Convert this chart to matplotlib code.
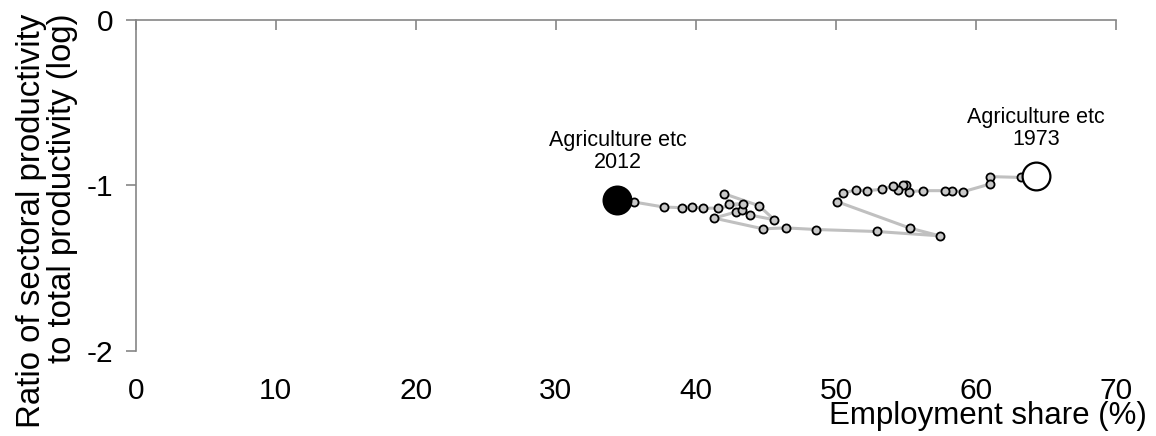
import matplotlib
matplotlib.use("Agg")
import matplotlib.pyplot as plt

plt.rcParams["font.family"] = ["Liberation Sans", "DejaVu Sans"]
plt.rcParams["axes.unicode_minus"] = False

# Employment share (%) and log productivity ratio, 1973 -> 2012
years = list(range(1973, 2013))
share = [64.3, 63.2, 61.0, 61.0, 59.1, 58.3, 57.8, 56.2, 55.2, 55.0,
         54.8, 54.4, 54.1, 53.3, 52.2, 51.4, 50.5, 50.1, 55.3, 57.4,
         52.9, 48.6, 46.4, 44.8, 41.3, 42.9, 43.3, 43.9, 45.6, 44.5,
         42.0, 42.4, 43.4, 41.6, 40.5, 39.7, 39.0, 37.7, 35.6, 34.4]
ratio = [-0.945, -0.952, -0.947, -0.992, -1.038, -1.032, -1.032, -1.032, -1.038, -0.998,
         -0.998, -1.030, -1.004, -1.024, -1.032, -1.028, -1.047, -1.099, -1.259, -1.305,
         -1.279, -1.267, -1.257, -1.263, -1.198, -1.160, -1.150, -1.180, -1.208, -1.123,
         -1.050, -1.113, -1.111, -1.137, -1.139, -1.129, -1.135, -1.131, -1.101, -1.087]

x_ticks = [0, 10, 20, 30, 40, 50, 60, 70]
y_ticks = [0, -1, -2]

fig = plt.figure(figsize=(11.56, 4.36), dpi=100)
ax = fig.add_axes([0.1174, 0.1956, 0.848, 0.7585])

# path and yearly points
ax.plot(share, ratio, color="#c0c0c0", linewidth=2.2, zorder=1)
ax.scatter(share[1:-1], ratio[1:-1], s=34, facecolor="#c8c8c8", edgecolor="black",
           linewidth=1.3, zorder=3)
# start and end years
ax.scatter([share[0]], [ratio[0]], s=400, facecolor="white", edgecolor="black",
           linewidth=1.6, zorder=4)
ax.scatter([share[-1]], [ratio[-1]], s=400, facecolor="black", edgecolor="black",
           linewidth=1.6, zorder=4)

for i in [0, -1]:
    ax.annotate("Agriculture etc\n%d" % years[i], (share[i], ratio[i]),
                xytext=(0, 34.5), textcoords="offset points",
                ha="center", va="center", fontsize=15.5, linespacing=1.05)

ax.set_xlim(0, 70)
ax.set_ylim(-2, 0)
ax.set_xticks(x_ticks)
ax.set_yticks(y_ticks)

for side in ["right", "bottom"]:
    ax.spines[side].set_visible(False)
for side in ["left", "top"]:
    ax.spines[side].set_color("#868686")
    ax.spines[side].set_linewidth(1.2)

ax.tick_params(axis="x", top=True, bottom=False, labeltop=False, labelbottom=True,
               direction="in", length=7, width=1.2, color="#868686",
               labelsize=21.5, pad=19)
ax.tick_params(axis="y", direction="out", length=7, width=1.2, color="#868686",
               labelsize=21.5, pad=9)

ax.set_xlabel("Employment share (%)", fontsize=22.5)
ax.xaxis.set_label_coords(1.0 + 31 / 980, -0.197)
ax.xaxis.label.set_horizontalalignment("right")
ax.xaxis.label.set_verticalalignment("center")

fig.text(0.0405, 0.968, "Ratio of sectoral productivity\nto total productivity (log)",
         rotation=90, ha="center", va="top", multialignment="right",
         fontsize=23.8, linespacing=0.98)

fig.savefig("out.png", dpi=100)
